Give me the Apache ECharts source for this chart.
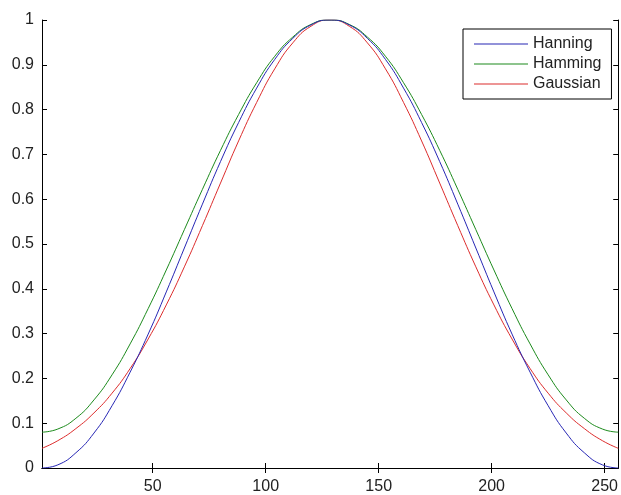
<!DOCTYPE html>
<html>
<head>
<meta charset="utf-8">
<script src="https://cdn.jsdelivr.net/npm/echarts@6/dist/echarts.min.js"></script>
<style>
  html, body { margin: 0; padding: 0; background: #fff; }
  #chart { width: 621px; height: 495px; }
</style>
</head>
<body>
<div id="chart"></div>
<script>
// Sample index (1..256) where each window value was taken
const sampleIndex = [
  1, 8, 16, 24, 32, 40, 48, 56, 64, 72, 80, 88, 96, 104, 112, 120, 128,
  129, 137, 145, 153, 161, 169, 177, 185, 193, 201, 209, 217, 225, 233, 241, 249, 256
];

const hanning = [
  0, 0.007, 0.034, 0.078, 0.139, 0.214, 0.299, 0.393, 0.491, 0.589, 0.684, 0.771, 0.848, 0.912, 0.959, 0.989, 1.0,
  1.0, 0.989, 0.959, 0.912, 0.848, 0.771, 0.684, 0.589, 0.491, 0.393, 0.299, 0.214, 0.139, 0.078, 0.034, 0.007, 0
];

const hamming = [
  0.08, 0.087, 0.111, 0.152, 0.208, 0.277, 0.356, 0.442, 0.532, 0.622, 0.709, 0.789, 0.860, 0.919, 0.962, 0.990, 1.0,
  1.0, 0.990, 0.962, 0.919, 0.860, 0.789, 0.709, 0.622, 0.532, 0.442, 0.356, 0.277, 0.208, 0.152, 0.111, 0.087, 0.08
];

const gaussian = [
  0.044, 0.061, 0.088, 0.123, 0.167, 0.222, 0.288, 0.364, 0.449, 0.541, 0.636, 0.730, 0.816, 0.891, 0.949, 0.986, 1.0,
  1.0, 0.986, 0.949, 0.891, 0.816, 0.730, 0.636, 0.541, 0.449, 0.364, 0.288, 0.222, 0.167, 0.123, 0.088, 0.061, 0.044
];

const seriesNames = ['Hanning', 'Hamming', 'Gaussian'];
const seriesColors = ['#2626b4', '#1c8a1c', '#dc2c2c'];
const xTicks = [50, 100, 150, 200, 250];
const xRange = [1, 256];

const font = 'Liberation Sans, Arial, Helvetica, sans-serif';
const axisLine = { show: true, lineStyle: { color: '#000', width: 1 } };

function pairs(values) {
  return sampleIndex.map((x, i) => [x, values[i]]);
}

const chart = echarts.init(document.getElementById('chart'), null, { renderer: 'canvas' });

chart.setOption({
  animation: false,
  backgroundColor: '#fff',
  grid: { left: 42, right: 1, top: 20, bottom: 20, containLabel: false },
  legend: {
    data: seriesNames.map(n => ({ name: n, icon: 'rect' })),
    orient: 'vertical',
    left: 463,
    top: 29,
    padding: [6, 10, 6, 11],
    itemGap: 2,
    itemWidth: 54,
    itemHeight: 1,
    backgroundColor: '#fff',
    borderColor: '#000',
    borderWidth: 1,
    textStyle: { fontFamily: font, fontSize: 16, color: '#222', lineHeight: 18, padding: [0, 0, 0, 0] }
  },
  xAxis: [
    {
      type: 'value',
      position: 'bottom',
      min: xRange[0],
      max: xRange[1],
      axisLine: axisLine,
      splitLine: { show: false },
      axisTick: { show: true, inside: true, length: 5, customValues: xTicks, lineStyle: { color: '#000' } },
      axisLabel: { show: true, customValues: xTicks, margin: 11, fontFamily: font, fontSize: 16, color: '#222' }
    },
    {
      type: 'value',
      position: 'top',
      min: xRange[0],
      max: xRange[1],
      axisLine: axisLine,
      splitLine: { show: false },
      axisTick: { show: true, inside: true, length: 5, customValues: xTicks, lineStyle: { color: '#000' } },
      axisLabel: { show: false }
    }
  ],
  yAxis: [
    {
      type: 'value',
      position: 'left',
      min: 0,
      max: 1,
      interval: 0.1,
      axisLine: axisLine,
      splitLine: { show: false },
      axisTick: { show: true, inside: true, length: 5, lineStyle: { color: '#000' } },
      axisLabel: {
        margin: 8,
        fontFamily: font,
        fontSize: 16,
        color: '#222',
        formatter: v => String(Math.round(v * 10) / 10)
      }
    },
    {
      type: 'value',
      position: 'right',
      min: 0,
      max: 1,
      interval: 0.1,
      axisLine: axisLine,
      splitLine: { show: false },
      axisTick: { show: true, inside: true, length: 5, lineStyle: { color: '#000' } },
      axisLabel: { show: false }
    }
  ],
  series: [hanning, hamming, gaussian].map((vals, i) => ({
    name: seriesNames[i],
    type: 'line',
    data: pairs(vals),
    smooth: 0.5,
    symbol: 'none',
    color: seriesColors[i],
    lineStyle: { width: 1, color: seriesColors[i] },
    z: 3 - i
  }))
});
</script>
</body>
</html>
